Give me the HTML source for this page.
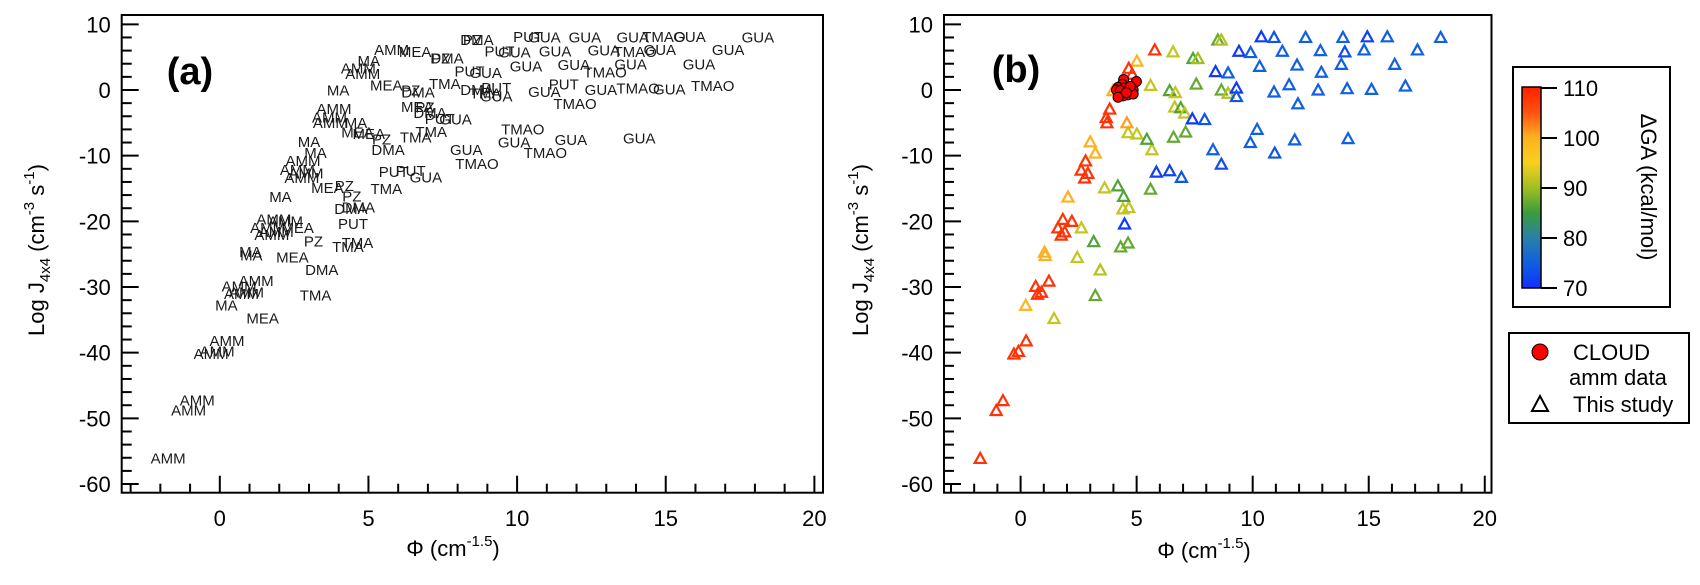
<!DOCTYPE html>
<html><head><meta charset="utf-8">
<style>
html,body{margin:0;padding:0;background:#fff;}
svg{display:block;font-family:"Liberation Sans",Arial,sans-serif;}
</style></head>
<body>
<svg id="chart" width="1700" height="585" viewBox="0 0 1700 585" xmlns="http://www.w3.org/2000/svg">
  <g id="panelA"></g>
  <g id="panelB"></g>
  <text x="190" y="84" font-size="38" font-weight="bold" text-anchor="middle">(a)</text>
  <text x="1016" y="82" font-size="38" font-weight="bold" text-anchor="middle">(b)</text>
  <text transform="translate(44,250) rotate(-90)" font-size="22" text-anchor="middle">Log J<tspan font-size="15" dy="6">4x4</tspan><tspan dy="-6"> (cm</tspan><tspan font-size="15" dy="-10">-3</tspan><tspan dy="10"> s</tspan><tspan font-size="15" dy="-10">-1</tspan><tspan dy="10">)</tspan></text>
  <text transform="translate(868,250) rotate(-90)" font-size="22" text-anchor="middle">Log J<tspan font-size="15" dy="6">4x4</tspan><tspan dy="-6"> (cm</tspan><tspan font-size="15" dy="-10">-3</tspan><tspan dy="10"> s</tspan><tspan font-size="15" dy="-10">-1</tspan><tspan dy="10">)</tspan></text>
  <text x="453" y="556" font-size="22" text-anchor="middle">Φ (cm<tspan font-size="15" dy="-10">-1.5</tspan><tspan dy="10">)</tspan></text>
  <text x="1204" y="558" font-size="22" text-anchor="middle">Φ (cm<tspan font-size="15" dy="-10">-1.5</tspan><tspan dy="10">)</tspan></text>
  <defs>
    <linearGradient id="cbgrad" x1="0" y1="1" x2="0" y2="0">
      <stop offset="0" stop-color="#1030ff"/>
      <stop offset="0.125" stop-color="#1060e0"/>
      <stop offset="0.25" stop-color="#2a80a8"/>
      <stop offset="0.375" stop-color="#3c9c3c"/>
      <stop offset="0.5" stop-color="#a0c020"/>
      <stop offset="0.625" stop-color="#f8d020"/>
      <stop offset="0.75" stop-color="#ffb020"/>
      <stop offset="0.875" stop-color="#ff5010"/>
      <stop offset="1" stop-color="#ff2000"/>
    </linearGradient>
  </defs>
  <g>
    <rect x="1513" y="67" width="157" height="240" fill="#fff" stroke="#000" stroke-width="2"/>
    <rect x="1522" y="87" width="19" height="201" fill="url(#cbgrad)" stroke="#000" stroke-width="1.5"/>
    <g id="cbTicks"></g>
    <text transform="translate(1641,187) rotate(90)" font-size="22" text-anchor="middle">ΔGA (kcal/mol)</text>
  </g>
  <g>
    <rect x="1509" y="333" width="180" height="90" fill="#fff" stroke="#000" stroke-width="2"/>
    <circle cx="1540" cy="352" r="8" fill="#ff0000" stroke="#000" stroke-width="1"/>
    <text x="1573" y="360" font-size="22">CLOUD</text>
    <text x="1569" y="385" font-size="22">amm data</text>
    <path d="M1540,396 L1548,411 L1532,411 Z" fill="none" stroke="#000" stroke-width="2"/>
    <text x="1573" y="412" font-size="22">This study</text>
  </g>
</svg>
<script>
const labels = ["AMM","AMM","AMM","AMM","AMM","AMM","MA","MEA","AMM","AMM","AMM","AMM","TMA","DMA","MA","MA","MEA","PZ","TMA","TMA","PUT","AMM","AMM","AMM","AMM","AMM","MEA","DMA","DMA","MA","MEA","PZ","PZ","TMA","PUT","PUT","GUA","AMM","AMM","AMM","AMM","MA","MA","DMA","MEA","MEA","PZ","TMA","TMA","MA","AMM","AMM","AMM","MEA","PZ","DMA","PUT","GUA","GUA","GUA","TMAO","TMAO","GUA","GUA","TMAO","MA","MEA","PZ","DMA","TMA","DMA","TMA","PUT","GUA","GUA","PUT","TMAO","GUA","TMAO","GUA","TMAO","AMM","MEA","PZ","DMA","MA","AMM","AMM","PUT","GUA","GUA","GUA","TMAO","GUA","GUA","PZ","DMA","PUT","GUA","GUA","GUA","TMAO","GUA","GUA","PUT","GUA","GUA","GUA","TMAO","GUA","GUA"];
const phi = [-1.74,-1.05,-0.76,-0.29,-0.09,0.24,0.22,1.44,0.65,0.73,0.90,1.22,3.22,3.43,1.03,1.06,2.44,3.15,4.31,4.63,4.48,1.82,2.21,1.61,1.90,1.75,2.62,4.41,4.66,2.04,3.62,4.19,4.44,5.60,5.85,6.42,6.93,2.80,2.61,2.90,2.76,3.00,3.22,5.66,4.63,5.01,5.44,6.59,7.11,4.58,3.84,3.69,3.72,6.64,6.90,7.07,7.40,7.93,8.29,9.90,10.19,10.95,11.81,14.11,8.65,3.98,5.60,6.42,6.67,7.57,8.65,8.94,9.30,9.30,10.92,11.57,11.95,12.82,14.07,15.12,16.58,5.78,6.57,7.43,7.64,5.01,4.66,4.81,8.40,8.94,10.30,11.91,12.96,13.82,16.12,8.50,8.65,10.37,10.92,12.28,13.89,14.94,15.80,18.10,9.41,9.91,11.28,12.92,13.97,14.80,17.10];
const logJ = [-56.1,-48.8,-47.3,-40.2,-39.8,-38.2,-32.8,-34.8,-29.9,-31.1,-30.8,-29.1,-31.3,-27.4,-24.7,-25.2,-25.5,-23.1,-23.9,-23.3,-20.4,-19.7,-20.0,-21.0,-21.6,-22.1,-21.0,-18.1,-17.9,-16.3,-14.9,-14.6,-16.2,-15.1,-12.5,-12.3,-13.3,-10.8,-12.2,-12.7,-13.4,-7.9,-9.6,-9.1,-6.5,-6.7,-7.5,-7.2,-6.4,-5.0,-2.9,-4.2,-5.0,-2.6,-2.7,-3.5,-4.4,-4.5,-9.1,-8.0,-6.0,-9.6,-7.6,-7.4,-11.3,-0.1,0.7,-0.1,-0.4,0.9,0.0,-0.5,0.3,-1.0,-0.3,0.8,-2.1,0.0,0.2,0.1,0.6,6.1,5.8,4.8,4.8,4.4,3.3,2.4,2.8,2.6,3.6,3.8,2.7,3.9,3.9,7.6,7.6,8.1,8.0,8.0,8.0,8.1,8.1,8.0,5.9,5.7,5.9,6.0,5.8,6.1,6.1];
const dG = [108,108,108,108,108,108,99,92,108,108,108,108,87,91,100,100,92,86,87,87,71,108,108,108,108,108,92,92,92,100,92,86,86,87,72,72,74,108,108,108,108,100,100,92,92,92,86,87,87,101,108,108,108,92,86,92,71,74,75,75,75,74,75,75,73,100,92,86,92,87,87,91,71,74,75,75,75,75,75,75,75,108,92,86,90,99,108,108,71,75,75,75,75,75,75,87,91,71,74,75,75,72,75,75,71,75,75,75,73,75,75];
const cloudPhi = [4.44,4.99,4.38,4.20,4.48,4.13,4.30,4.67,4.85,4.62,4.41,4.85,4.20,4.73,4.56];
const cloudJ = [1.6,1.3,0.85,0.4,0.3,0.0,-0.1,-0.1,0.0,-0.75,-0.9,-0.6,-1.1,0.55,-0.4];
const xTicks = [0,5,10,15,20];
const yTicks = [10,0,-10,-20,-30,-40,-50,-60];
const cbTickValues = [110,100,90,80,70];

const NS = "http://www.w3.org/2000/svg";
const X_MIN = -3.3, X_MAX = 20.29, Y_MIN = -61.32, Y_MAX = 11.42;
const TOP = 15, BOTTOM = 492.7;

function mk(tag, attrs, parent){
  const e = document.createElementNS(NS, tag);
  for (const k in attrs) e.setAttribute(k, attrs[k]);
  parent.appendChild(e);
  return e;
}
const colorStops = [[70,[16,48,255]],[75,[16,96,224]],[80,[42,128,168]],[85,[60,156,60]],[90,[160,192,32]],[95,[248,208,32]],[100,[255,176,32]],[105,[255,80,16]],[110,[255,32,0]]];
function cmap(v){
  if (v <= colorStops[0][0]) return "rgb(" + colorStops[0][1].join(",") + ")";
  for (let i = 1; i < colorStops.length; i++){
    if (v <= colorStops[i][0]){
      const a = colorStops[i-1], b = colorStops[i];
      const t = (v - a[0]) / (b[0] - a[0]);
      const c = a[1].map((q, j) => Math.round(q + (b[1][j] - q) * t));
      return "rgb(" + c.join(",") + ")";
    }
  }
  return "rgb(" + colorStops[colorStops.length-1][1].join(",") + ")";
}

function drawAxes(g, left, right, xs, ys, name){
  const fr = mk("rect", {x:left, y:TOP, width:right-left, height:BOTTOM-TOP, fill:"none", stroke:"#000", "stroke-width":2}, g);
  
  
  for (let v = -3; v <= 20; v++){
    const major = v % 5 === 0;
    const t = mk("line", {x1:xs(v), x2:xs(v), y1:BOTTOM, y2:BOTTOM-(major?17:9), stroke:"#000", "stroke-width":2}, g);
    
    
  }
  for (let v = -60; v <= 10; v += 2){
    const major = v % 10 === 0;
    const t = mk("line", {x1:left, x2:left+(major?17:10), y1:ys(v), y2:ys(v), stroke:"#000", "stroke-width":2}, g);
    
    
  }
  xTicks.forEach(v => {
    const t = mk("text", {x:xs(v), y:526, "font-size":22, "text-anchor":"middle"}, g);
    t.textContent = String(v);
    
    
  });
  yTicks.forEach(v => {
    const t = mk("text", {x:left-11, y:ys(v)+8, "font-size":22, "text-anchor":"end"}, g);
    t.textContent = String(v);
    
    
  });
}

// Panel A
(function(){
  const g = document.getElementById("panelA");
  const L = 121.7, R = 823;
  const xs = v => L + (v - X_MIN) / (X_MAX - X_MIN) * (R - L);
  const ys = v => TOP + (Y_MAX - v) / (Y_MAX - Y_MIN) * (BOTTOM - TOP);
  drawAxes(g, L, R, xs, ys, "panel-a");
  labels.forEach((lab, i) => {
    const t = mk("text", {x:xs(phi[i]), y:ys(logJ[i])+5, "font-size":15, "text-anchor":"middle", fill:"#1a1a1a"}, g);
    t.textContent = lab;
    
    
  });
})();

// Panel B
(function(){
  const g = document.getElementById("panelB");
  const L = 944, R = 1491.5;
  const xs = v => L + (v - X_MIN) / (X_MAX - X_MIN) * (R - L);
  const ys = v => TOP + (Y_MAX - v) / (Y_MAX - Y_MIN) * (BOTTOM - TOP);
  drawAxes(g, L, R, xs, ys, "panel-b");
  phi.forEach((p, i) => {
    const cx = xs(p), cy = ys(logJ[i]);
    const d = "M" + cx + "," + (cy-5.5) + " L" + (cx+5.5) + "," + (cy+4.5) + " L" + (cx-5.5) + "," + (cy+4.5) + " Z";
    const t = mk("path", {d:d, fill:"none", stroke:cmap(dG[i]), "stroke-width":2.2, "stroke-linejoin":"miter"}, g);
    
    
  });
  cloudPhi.forEach((p, i) => {
    const c = mk("circle", {cx:xs(p), cy:ys(cloudJ[i]), r:5, fill:"#ff0000", stroke:"#000", "stroke-width":1}, g);
    
    
  });
})();

// Colorbar ticks
(function(){
  const g = document.getElementById("cbTicks");
  const cy = v => 288 - (v - 70) / 40 * 200;
  cbTickValues.forEach(v => {
    const l = mk("line", {x1:1541, x2:1557, y1:cy(v), y2:cy(v), stroke:"#000", "stroke-width":2}, g);
    
    
    const t = mk("text", {x:1563, y:cy(v)+8, "font-size":22}, g);
    t.textContent = String(v);
    
    
  });
})();
</script>
</body></html>
